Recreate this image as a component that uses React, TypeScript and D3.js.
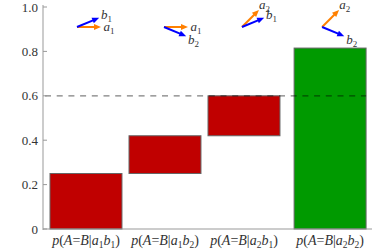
import React from 'react';
import * as d3 from 'd3';

// waterfall-style bars: each bar runs from a bottom to a top value
const categories = ['a1b1', 'a1b2', 'a2b1', 'a2b2'];
const barBottoms = [0, 0.25, 0.42, 0];
const barTops = [0.25, 0.42, 0.6, 0.815];
const barColors = ['#c00000', '#c00000', '#c00000', '#009a00'];
const barGroups = [0, 0, 0, 1]; // last bar is set apart a little
const aIndex = [1, 1, 2, 2];
const bIndex = [1, 2, 1, 2];
const aAngles = [0, 45]; // degrees, a1, a2
const bAngles = [22.5, -22.5]; // b1, b2
const yTicks = [0, 0.2, 0.4, 0.6, 0.8, 1.0];
const threshold = 0.6;
const arrowLevel = 0.91;
const arrowShift = [-9, -1, -2, -8]; // nudges of the little diagrams

const W = 374;
const H = 250;
const font = '"Liberation Serif", "Times New Roman", serif';

const App = () => {
  const y = d3.scaleLinear().domain([0, 1]).range([229, 7]);
  const x = d3.scaleLinear().domain([0, 1]).range([50, 129]);
  const barW = x(0.911) - x(0);
  const groupGap = 0.09;
  const left = (i: number) => x(i + barGroups[i] * groupGap);
  const axisX = 43;

  const arrowLen = 24;
  const arrow = (cx: number, cy: number, deg: number, color: string, name: string, sub: number, key: string) => {
    const r = (deg * Math.PI) / 180;
    const dx = Math.cos(r);
    const dy = -Math.sin(r);
    const tx = cx + dx * arrowLen;
    const ty = cy + dy * arrowLen;
    const hl = 7;
    const hw = 3;
    const bx = tx - dx * hl;
    const by = ty - dy * hl;
    const head = `M${tx},${ty}L${bx - dy * hw},${by + dx * hw}L${bx + dy * hw},${by - dx * hw}Z`;
    const lx = tx + dx * 8;
    const ly = ty + dy * 8;
    return (
      <g key={key}>
        <line x1={cx} y1={cy} x2={bx + dx} y2={by + dy} stroke={color} strokeWidth={2} />
        <path d={head} fill={color} />
        <text x={lx} y={ly + 4.5} textAnchor="middle" fontFamily={font} fontSize={13} fontStyle="italic" fill="#333">
          {name}
          <tspan fontSize={9} dy={3} fontStyle="normal">{sub}</tspan>
        </text>
      </g>
    );
  };

  return (
    <svg width={W} height={H} style={{ position: 'absolute', left: 0, top: 0 }}>
      <rect width={W} height={H} fill="#fff" />
      {categories.map((c, i) => (
        <rect
          key={c}
          x={left(i)}
          y={y(barTops[i])}
          width={barW}
          height={y(barBottoms[i]) - y(barTops[i])}
          fill={barColors[i]}
          stroke="#666"
          strokeWidth={1}
        />
      ))}
      <line
        x1={axisX + 2}
        x2={left(3) + barW}
        y1={y(threshold)}
        y2={y(threshold)}
        stroke="#000"
        strokeOpacity={0.5}
        strokeWidth={1.2}
        strokeDasharray="6,5.7"
      />
      {/* axes */}
      <line x1={axisX} x2={axisX} y1={y(1) - 2} y2={y(0) + 1} stroke="#999" />
      <line x1={axisX} x2={372} y1={y(0)} y2={y(0)} stroke="#999" />
      {yTicks.map((t) => (
        <g key={t}>
          <line x1={axisX} x2={axisX + 4} y1={y(t)} y2={y(t)} stroke="#999" />
          <text x={axisX - 5} y={y(t) + 4.5} textAnchor="end" fontFamily={font} fontSize={13} fill="#333">
            {t === 0 ? '0' : t.toFixed(1)}
          </text>
        </g>
      ))}
      {/* category labels */}
      {categories.map((c, i) => (
        <text key={c} x={left(i) + barW / 2} y={245} textAnchor="middle" fontFamily={font} fontSize={14} fill="#333">
          <tspan fontStyle="italic">p</tspan>(<tspan fontStyle="italic">A</tspan>=<tspan fontStyle="italic">B</tspan>|
          <tspan fontStyle="italic">a</tspan>
          <tspan fontSize={9.5} dy={3}>{aIndex[i]}</tspan>
          <tspan fontStyle="italic" dy={-3}>b</tspan>
          <tspan fontSize={9.5} dy={3}>{bIndex[i]}</tspan>
          <tspan dy={-3}>)</tspan>
        </text>
      ))}
      {/* measurement direction diagrams */}
      {categories.map((c, i) => {
        const cx = left(i) + barW / 2 + arrowShift[i];
        const cy = y(arrowLevel);
        return (
          <g key={c}>
            {arrow(cx, cy, aAngles[aIndex[i] - 1], '#ff8000', 'a', aIndex[i], 'a')}
            {arrow(cx, cy, bAngles[bIndex[i] - 1], '#0000ff', 'b', bIndex[i], 'b')}
          </g>
        );
      })}
    </svg>
  );
};

export default App;
